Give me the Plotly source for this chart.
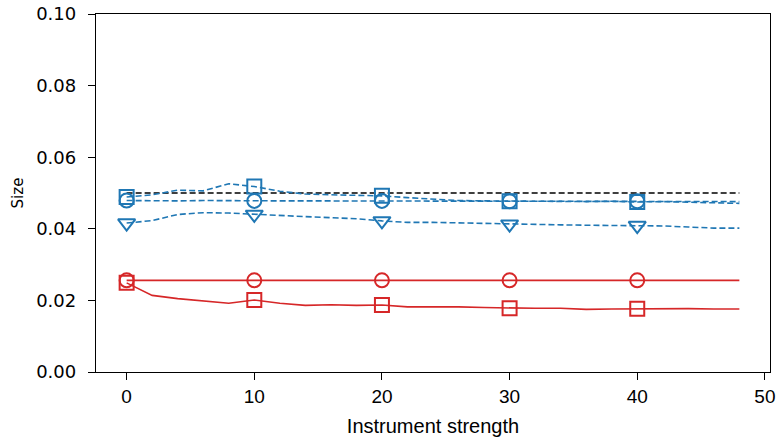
import plotly.graph_objects as go

x = list(range(0, 50, 2))
marker_x = [0, 10, 20, 30, 40]

nominal = [0.05] * len(x)

blue_square = [0.0489, 0.0495, 0.0508, 0.0506, 0.0526, 0.0518, 0.0505, 0.0497, 0.0495,
               0.0494, 0.0492, 0.0487, 0.0482, 0.0479, 0.0478, 0.0477, 0.0478, 0.0477,
               0.0476, 0.0477, 0.0475, 0.0476, 0.0474, 0.0472, 0.0471]
blue_circle = [0.0479, 0.0478, 0.0478, 0.0479, 0.0478, 0.0478, 0.0478, 0.0478, 0.0478,
               0.0478, 0.0478, 0.0478, 0.0478, 0.0477, 0.0477, 0.0477, 0.0477, 0.0477,
               0.0477, 0.0477, 0.0477, 0.0477, 0.0477, 0.0476, 0.0476]
blue_tri = [0.0416, 0.0423, 0.0440, 0.0445, 0.0444, 0.0440, 0.0437, 0.0434, 0.0431,
            0.0428, 0.0422, 0.0418, 0.0418, 0.0417, 0.0415, 0.0413, 0.0412, 0.0411,
            0.0410, 0.0410, 0.0409, 0.0408, 0.0405, 0.0402, 0.0402]
red_circle = [0.0256] * len(x)
red_square = [0.0249, 0.0214, 0.0205, 0.0198, 0.0192, 0.0201, 0.0192, 0.0186, 0.0188,
              0.0186, 0.0187, 0.0182, 0.0183, 0.0182, 0.0180, 0.0178, 0.0178, 0.0178,
              0.0175, 0.0176, 0.0177, 0.0178, 0.0177, 0.0176, 0.0176]

x_ticks = [0, 10, 20, 30, 40, 50]
y_ticks = [0, 0.02, 0.04, 0.06, 0.08, 0.1]

BLUE = "#1f77b4"
RED = "#d62728"

series = [
    (blue_square, BLUE, "dash", "square-open"),
    (blue_circle, BLUE, "dash", "circle-open"),
    (blue_tri, BLUE, "dash", "triangle-down-open"),
    (red_circle, RED, "solid", "circle-open"),
    (red_square, RED, "solid", "square-open"),
]

fig = go.Figure()
fig.add_trace(go.Scatter(x=x, y=nominal, mode="lines",
                         line=dict(color="black", dash="6px,3px", width=1.6),
                         showlegend=False))
for vals, col, dash, sym in series:
    fig.add_trace(go.Scatter(x=x, y=vals, mode="lines",
                             line=dict(color=col, dash="6px,3px" if dash == "dash" else "solid", width=1.6),
                             showlegend=False))
    my = [vals[x.index(m)] for m in marker_x]
    fig.add_trace(go.Scatter(x=marker_x, y=my, mode="markers",
                             marker=dict(symbol=sym, size=14 if "triangle" not in sym else 15,
                                         color=col, line=dict(color=col, width=2)),
                             showlegend=False))

XFONT = "Liberation Sans, Arial"
fig.update_layout(
    width=777, height=439,
    margin=dict(l=96, r=7, t=14, b=67),
    paper_bgcolor="white", plot_bgcolor="white",
    font=dict(family="DejaVu Sans", color="black"),
)
fig.update_xaxes(
    range=[-2.4, 50.4], tickvals=x_ticks, automargin=False,
    showline=True, mirror=True, linecolor="black", linewidth=1.3,
    ticks="outside", ticklen=7, tickwidth=1.3, tickcolor="black",
    showgrid=False, zeroline=False,
    tickfont=dict(family=XFONT, size=19),
    title=dict(text="Instrument strength", font=dict(family=XFONT, size=20), standoff=13),
)
fig.update_yaxes(
    range=[0, 0.1], tickvals=y_ticks, tickformat=".2f", automargin=False,
    showline=True, mirror=True, linecolor="black", linewidth=1.3,
    ticks="outside", ticklen=7, tickwidth=1.3, tickcolor="black",
    showgrid=False, zeroline=False, ticklabelstandoff=8,
    tickfont=dict(family="DejaVu Sans", size=18),
    title=dict(text="Size", font=dict(family="DejaVu Sans", size=15), standoff=8),
)

fig.write_html("out.html")
